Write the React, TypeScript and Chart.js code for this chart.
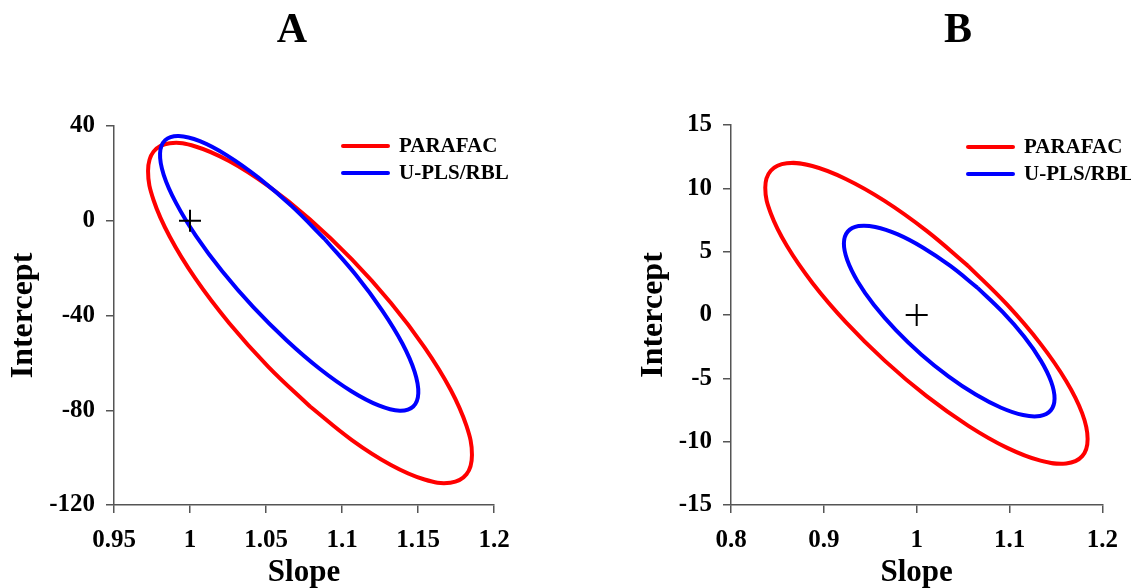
import React, { useEffect, useRef } from "react";
import { Chart, registerables } from "chart.js";

Chart.register(...registerables);

// ---------- data ----------
const seriesNames = ["PARAFAC", "U-PLS/RBL"];
const seriesColors = ["#ff0000", "#0000ff"];
const axisTitleX = "Slope";
const axisTitleY = "Intercept";

// Panel A: joint confidence regions [slope, intercept]
const parafacA: [number, number][] = [
  [1.079, -78.41], [1.0514, -61.54], [1.0257, -43.14], [1.0036, -24.46], [0.9867, -6.76],
  [0.976, 8.76], [0.9724, 21.01], [0.976, 29.18], [0.9867, 32.72], [1.0036, 31.36],
  [1.0257, 25.22], [1.0514, 14.7], [1.079, 0.53], [1.1065, -16.34], [1.1322, -34.74],
  [1.1543, -53.42], [1.1713, -71.12], [1.1819, -86.64], [1.1855, -98.89], [1.1819, -107.06],
  [1.1713, -110.6], [1.1543, -109.24], [1.1322, -103.1], [1.1065, -92.58],
];
const uplsA: [number, number][] = [
  [1.089, -8.0], [1.0671, 6.07], [1.045, 18.21], [1.0243, 27.6], [1.0065, 33.6],
  [0.9926, 35.79], [0.9837, 34.04], [0.9803, 28.45], [0.9827, 19.41], [0.9908, 7.54],
  [1.0039, -6.36], [1.0212, -21.34], [1.0415, -36.37], [1.0635, -50.43], [1.0855, -62.58],
  [1.1062, -71.97], [1.1241, -77.96], [1.138, -80.16], [1.1469, -78.4], [1.1502, -72.82],
  [1.1478, -63.78], [1.1398, -51.91], [1.1266, -38.01], [1.1093, -23.03],
];
const idealA: [number, number] = [1, 0];
const xTicksA = [0.95, 1, 1.05, 1.1, 1.15, 1.2];
const yTicksA = [-120, -80, -40, 0, 40];

// Panel B
const parafacB: [number, number][] = [
  [1.0553, 3.88], [1.0104, 6.66], [0.9654, 9.01], [0.9236, 10.74], [0.8876, 11.76],
  [0.8601, 11.98], [0.8428, 11.39], [0.8369, 10.04], [0.8429, 8.01], [0.8603, 5.44],
  [0.8879, 2.51], [0.9239, -0.58], [0.9658, -3.62], [1.0107, -6.41], [1.0557, -8.75],
  [1.0975, -10.49], [1.1334, -11.5], [1.161, -11.72], [1.1783, -11.14], [1.1841, -9.78],
  [1.1782, -7.75], [1.1608, -5.19], [1.1332, -2.26], [1.0972, 0.83],
];
const uplsB: [number, number][] = [
  [1.0653, 2.16], [1.0359, 3.89], [1.0065, 5.33], [0.9791, 6.38], [0.9555, 6.95],
  [0.9373, 7.02], [0.9257, 6.58], [0.9216, 5.66], [0.9253, 4.32], [0.9364, 2.65],
  [0.9542, 0.77], [0.9776, -1.19], [1.0049, -3.11], [1.0342, -4.84], [1.0636, -6.28],
  [1.091, -7.32], [1.1146, -7.9], [1.1328, -7.97], [1.1444, -7.53], [1.1485, -6.6],
  [1.1448, -5.26], [1.1337, -3.6], [1.1159, -1.72], [1.0925, 0.24],
];
const idealB: [number, number] = [1, 0];
const xTicksB = [0.8, 0.9, 1, 1.1, 1.2];
const yTicksB = [-15, -10, -5, 0, 5, 10, 15];

// ---------- helpers ----------
const FONT = "'Liberation Serif', 'Times New Roman', serif";
const AXIS_COLOR = "#555555";

const fmt = (v: number | string) => String(+Number(v).toFixed(3));

const closedLoop = (pts: [number, number][]) =>
  [...pts, pts[0]].map(([x, y]) => ({ x, y }));

const decorPlugin = {
  id: "panelDecor",
  afterDraw(chart: any) {
    const o = chart.options.plugins.panelDecor;
    if (!o) return;
    const ctx: CanvasRenderingContext2D = chart.ctx;
    ctx.save();
    // panel letter
    ctx.fillStyle = "#000";
    ctx.font = `bold 42px ${FONT}`;
    ctx.textAlign = "center";
    ctx.textBaseline = "alphabetic";
    ctx.fillText(o.title, o.titleX, o.titleY);
    // legend inside the plot
    ctx.font = `bold 21px ${FONT}`;
    ctx.textAlign = "left";
    ctx.textBaseline = "middle";
    seriesNames.forEach((name, i) => {
      const ds = chart.data.datasets.find((d: any) => d.label === name);
      if (!ds) return;
      const y = o.legendY + i * o.legendGap;
      ctx.strokeStyle = ds.borderColor;
      ctx.lineWidth = 4;
      ctx.lineCap = "round";
      ctx.beginPath();
      ctx.moveTo(o.legendX, y);
      ctx.lineTo(o.legendX + 45, y);
      ctx.stroke();
      ctx.fillStyle = "#000";
      ctx.fillText(name, o.legendX + 56, y + 1);
    });
    ctx.restore();
  },
};

type PanelProps = {
  left: number;
  width: number;
  title: string;
  titleX: number;
  legendX: number;
  legendY: number;
  parafac: [number, number][];
  upls: [number, number][];
  ideal: [number, number];
  xTicks: number[];
  yTicks: number[];
  yAxisWidth: number;
  plotTop: number;
  plotRight: number;
};

function Panel(p: PanelProps) {
  const ref = useRef<HTMLCanvasElement>(null);
  useEffect(() => {
    const tickFont = { family: FONT, size: 25, weight: "bold" as const };
    const xTitleFont = { family: FONT, size: 31, weight: "bold" as const, lineHeight: 1 };
    const yTitleFont = { family: FONT, size: 32, weight: "bold" as const, lineHeight: 1 };
    const chart = new Chart(ref.current as HTMLCanvasElement, {
      type: "scatter",
      data: {
        datasets: [
          {
            label: "",
            data: [{ x: p.ideal[0], y: p.ideal[1] }],
            pointStyle: "cross",
            pointRadius: 11,
            borderColor: "#000000",
            backgroundColor: "#000000",
            borderWidth: 2,
            showLine: false,
            order: 0,
          },
          {
            label: seriesNames[1],
            data: closedLoop(p.upls),
            borderColor: seriesColors[1],
            backgroundColor: seriesColors[1],
            borderWidth: 4,
            pointRadius: 0,
            showLine: true,
            tension: 0.4,
            order: 1,
          },
          {
            label: seriesNames[0],
            data: closedLoop(p.parafac),
            borderColor: seriesColors[0],
            backgroundColor: seriesColors[0],
            borderWidth: 4,
            pointRadius: 0,
            showLine: true,
            tension: 0.4,
            order: 2,
          },
        ] as any,
      },
      options: {
        animation: false,
        responsive: false,
        events: [],
        layout: {
          padding: { left: 0, top: p.plotTop, right: p.width - p.plotRight, bottom: 0 },
        },
        plugins: {
          legend: { display: false },
          tooltip: { enabled: false },
          title: { display: false },
          panelDecor: {
            title: p.title,
            titleX: p.titleX,
            titleY: 42,
            legendX: p.legendX,
            legendY: p.legendY,
            legendGap: 27,
          },
        } as any,
        scales: {
          x: {
            type: "linear",
            position: "bottom",
            min: p.xTicks[0],
            max: p.xTicks[p.xTicks.length - 1],
            afterBuildTicks: (s: any) => {
              s.ticks = p.xTicks.map((v) => ({ value: v }));
            },
            afterFit: (s: any) => {
              s.height = 83;
            },
            ticks: {
              callback: (v: any) => fmt(v),
              font: tickFont,
              color: "#000",
              padding: 13,
              maxRotation: 0,
              autoSkip: false,
            },
            grid: {
              drawOnChartArea: false,
              drawTicks: true,
              tickLength: 8,
              color: AXIS_COLOR,
              lineWidth: 1.5,
            },
            border: { display: true, color: AXIS_COLOR, width: 1.5 },
            title: {
              display: true,
              text: axisTitleX,
              font: xTitleFont,
              color: "#000",
              padding: { top: 0, bottom: 0 },
            },
          },
          y: {
            type: "linear",
            position: "left",
            min: p.yTicks[0],
            max: p.yTicks[p.yTicks.length - 1],
            afterBuildTicks: (s: any) => {
              s.ticks = p.yTicks.map((v) => ({ value: v }));
            },
            afterFit: (s: any) => {
              s.width = p.yAxisWidth;
            },
            ticks: {
              callback: (v: any) => fmt(v),
              font: tickFont,
              color: "#000",
              padding: 11,
              autoSkip: false,
            },
            grid: {
              drawOnChartArea: false,
              drawTicks: true,
              tickLength: 8,
              color: AXIS_COLOR,
              lineWidth: 1.5,
            },
            border: { display: true, color: AXIS_COLOR, width: 1.5 },
            title: {
              display: true,
              text: axisTitleY,
              font: yTitleFont,
              color: "#000",
              padding: { top: 8, bottom: 0 },
            },
          },
        } as any,
      },
      plugins: [decorPlugin as any],
    });
    return () => chart.destroy();
  }, []);
  return (
    <canvas
      ref={ref}
      width={p.width}
      height={588}
      style={{ position: "absolute", left: p.left, top: 0, width: p.width, height: 588 }}
    />
  );
}

export default function App() {
  return (
    <div
      style={{
        position: "absolute",
        left: 0,
        top: 0,
        width: 1131,
        height: 588,
        background: "#fff",
        overflow: "hidden",
      }}
    >
      <Panel
        left={0}
        width={600}
        title="A"
        titleX={292}
        legendX={343}
        legendY={146}
        parafac={parafacA}
        upls={uplsA}
        ideal={idealA}
        xTicks={xTicksA}
        yTicks={yTicksA}
        yAxisWidth={114}
        plotTop={126}
        plotRight={494}
      />
      <Panel
        left={630}
        width={501}
        title="B"
        titleX={328}
        legendX={338}
        legendY={147}
        parafac={parafacB}
        upls={uplsB}
        ideal={idealB}
        xTicks={xTicksB}
        yTicks={yTicksB}
        yAxisWidth={101}
        plotTop={125}
        plotRight={481}
      />
    </div>
  );
}
